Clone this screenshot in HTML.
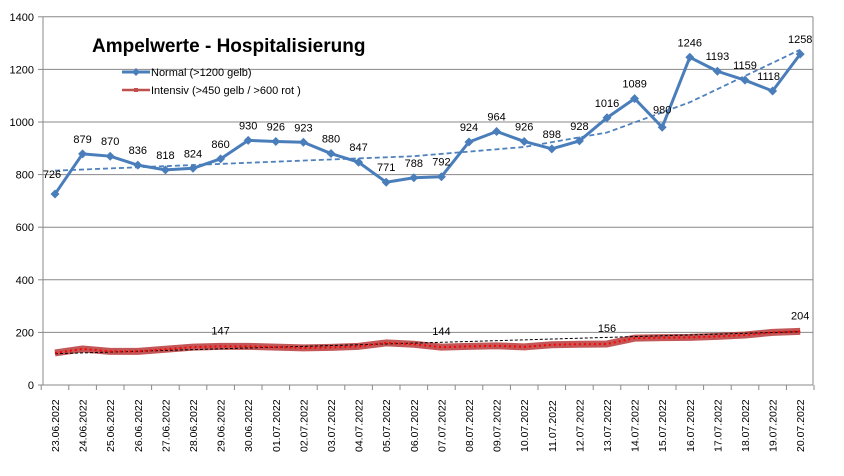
<!DOCTYPE html><html><head><meta charset="utf-8"><style>
body{margin:0;background:#fff;font-family:"Liberation Sans",sans-serif}
</style></head><body>
<svg id="c" width="844" height="471" xmlns="http://www.w3.org/2000/svg" font-family="Liberation Sans, sans-serif"></svg>
<script>
const N=[726,879,870,836,818,824,860,930,926,923,880,847,771,788,792,924,964,926,898,928,1016,1089,980,1246,1193,1159,1118,1258];
const I=[122,137,128,128,136,144,147,147,144,141,143,147,160,155,144,147,149,145,153,155,156,178,180,181,185,190,200,204];
const d=["23.06.2022","24.06.2022","25.06.2022","26.06.2022","27.06.2022","28.06.2022","29.06.2022","30.06.2022","01.07.2022","02.07.2022","03.07.2022","04.07.2022","05.07.2022","06.07.2022","07.07.2022","08.07.2022","09.07.2022","10.07.2022","11.07.2022","12.07.2022","13.07.2022","14.07.2022","15.07.2022","16.07.2022","17.07.2022","18.07.2022","19.07.2022","20.07.2022"];
const X=i=>55+i*27.6, Y=v=>385-v*0.263;
let s='';
for(let v=0;v<=1400;v+=200){let y=Y(v);s+=`<line x1="43" x2="813" y1="${y}" y2="${y}" stroke="#888" stroke-width="1"/><line x1="38" x2="43" y1="${y}" y2="${y}" stroke="#888"/><text x="34" y="${y+4}" font-size="11" text-anchor="end">${v}</text>`;}
s+=`<line x1="43" x2="43" y1="${Y(1400)}" y2="385" stroke="#888"/><line x1="813" x2="813" y1="${Y(1400)}" y2="385" stroke="#888"/>`;
for(let i=0;i<=28;i++){let x=41.2+i*27.6;s+=`<line x1="${x}" x2="${x}" y1="385" y2="390" stroke="#888"/>`;}
d.forEach((t,i)=>{s+=`<text transform="translate(${X(i)+4},452) rotate(-90)" font-size="10.5">${t}</text>`;});
const ip=I.map((v,i)=>X(i)+','+Y(v)).join(' ');
s+=`<polyline points="${ip}" fill="none" stroke="#b83a3a" stroke-opacity="0.85" stroke-width="7" stroke-linejoin="round"/>`;
s+=`<polyline points="${I.map((v,i)=>X(i)+','+Y(119+i*3.1)).join(' ')}" fill="none" stroke="#000" stroke-width="1" stroke-dasharray="3,2"/>`;
s+=`<polyline points="${ip}" fill="none" stroke="#f00" stroke-width="2" stroke-dasharray="2,3"/>`;
const tp=[[0,815],[7,845],[13,870],[17,905],[20,960],[23,1075],[27,1275]];
let tr=[];for(let k=0;k<tp.length-1;k++){for(let j=0;j<10;j++){let t=j/10,a=tp[k],b=tp[k+1];tr.push([a[0]+(b[0]-a[0])*t,a[1]+(b[1]-a[1])*t]);}}tr.push(tp[tp.length-1]);
s+=`<polyline points="${tr.map(p=>X(p[0])+','+Y(p[1])).join(' ')}" fill="none" stroke="#4f81bd" stroke-width="1.8" stroke-dasharray="5,3"/>`;
s+=`<polyline points="${N.map((v,i)=>X(i)+','+Y(v)).join(' ')}" fill="none" stroke="#4a7ebb" stroke-width="3" stroke-linejoin="round"/>`;
N.forEach((v,i)=>{let x=X(i),y=Y(v);s+=`<path d="M${x} ${y-4.5}L${x+4.5} ${y}L${x} ${y+4.5}L${x-4.5} ${y}Z" fill="#4a7ebb"/>`;
let lx=x,ly=y-11;if(i==0){lx=x-3;ly=y-16;}if(i==22){lx=x;ly=y-14;}if(i==26){lx=x-4;}
s+=`<text x="${lx}" y="${ly}" font-size="11" text-anchor="middle">${v}</text>`;});
[[6,147],[14,144],[20,156],[27,204]].forEach(([i,v])=>{s+=`<text x="${X(i)}" y="${Y(v)-12}" font-size="11" text-anchor="middle">${v}</text>`;});
s+=`<text x="92" y="52" font-size="19" font-weight="bold">Ampelwerte - Hospitalisierung</text>`;
s+=`<line x1="122" x2="150" y1="72" y2="72" stroke="#4a7ebb" stroke-width="3"/><path d="M136 68L140 72L136 76L132 72Z" fill="#4a7ebb"/><text x="151" y="76" font-size="11">Normal (&gt;1200 gelb)</text>`;
s+=`<line x1="122" x2="150" y1="90" y2="90" stroke="#c0504d" stroke-width="2.5"/><rect x="134" y="88" width="4" height="4" fill="#c0504d"/><text x="151" y="94" font-size="11">Intensiv (&gt;450 gelb / &gt;600 rot )</text>`;
document.getElementById('c').innerHTML=s;
</script></body></html>
